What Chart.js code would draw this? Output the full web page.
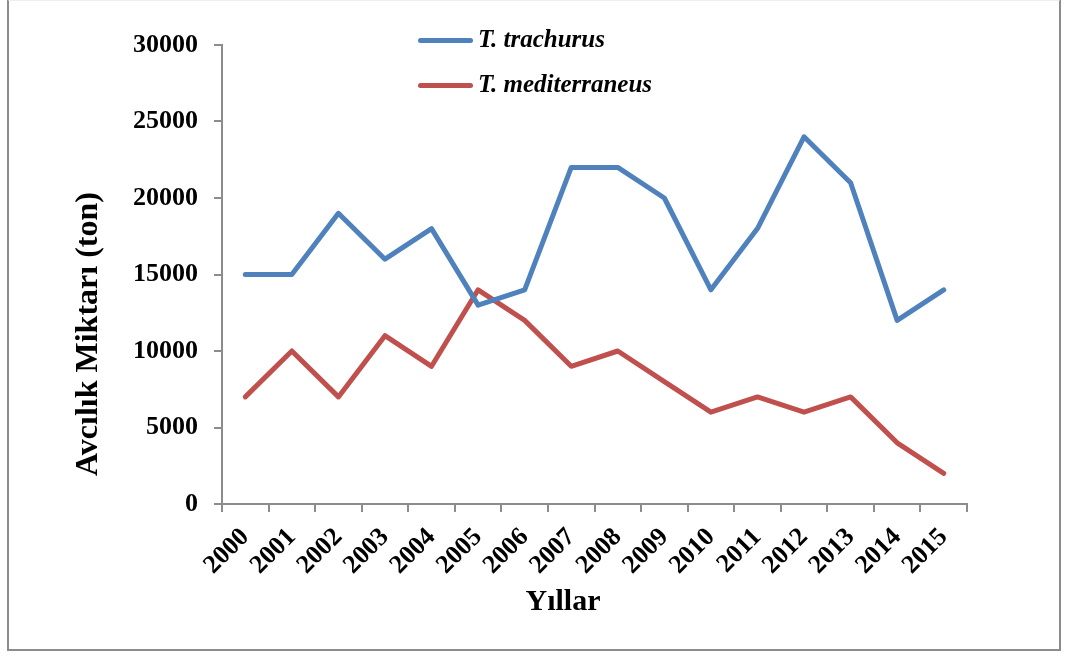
<!DOCTYPE html>
<html>
<head>
<meta charset="utf-8">
<script src="https://cdn.jsdelivr.net/npm/chart.js@4"></script>
<style>
  html, body { margin: 0; padding: 0; background: #fff; }
  #wrap { position: relative; width: 1066px; height: 657px; overflow: hidden; }
  #frame { position: absolute; left: 7px; top: -1px; width: 1054px; height: 652px; border: 2px solid #8c8c8c; border-top-color: #eeeeee; box-sizing: border-box; }
  canvas { position: absolute; left: 0; top: 0; }
  .serif { font-family: "Liberation Serif", "Times New Roman", serif; font-weight: bold; color: #000; position: absolute; white-space: nowrap; }
  #ytitle { font-size: 32px; left: 86px; top: 334px; transform: translate(-50%, -50%) rotate(-90deg); }
  #xtitle { font-size: 30px; left: 563px; top: 600px; transform: translate(-50%, -50%); }
  .leg { position: absolute; left: 418px; height: 0; }
  .leg .ln { position: absolute; left: 0; top: -2px; width: 55px; height: 5px; border-radius: 3px; }
  .leg .tx { font-style: italic; font-size: 25px; left: 60px; top: 0; transform: translateY(-52%); }
</style>
</head>
<body>
<div id="wrap">
  <canvas id="c" width="1066" height="657"></canvas>
  <div id="frame"></div>
  <div id="ytitle" class="serif">Avcılık Miktarı (ton)</div>
  <div id="xtitle" class="serif">Yıllar</div>
  <div class="leg" style="top:40px"><div class="ln" id="ln0"></div><div class="tx serif" id="tx0"></div></div>
  <div class="leg" style="top:85px"><div class="ln" id="ln1"></div><div class="tx serif" id="tx1"></div></div>
</div>
<script>
const years = ["2000","2001","2002","2003","2004","2005","2006","2007","2008","2009","2010","2011","2012","2013","2014","2015"];
const trachurus = [15000,15000,19000,16000,18000,13000,14000,22000,22000,20000,14000,18000,24000,21000,12000,14000];
const mediterraneus = [7000,10000,7000,11000,9000,14000,12000,9000,10000,8000,6000,7000,6000,7000,4000,2000];
const seriesNames = ["T. trachurus", "T. mediterraneus"];
const seriesColors = ["#4F81BD", "#C0504D"];
const yTitle = "Avcılık Miktarı (ton)";
const xTitle = "Yıllar";

const fontFamily = '"Liberation Serif", "Times New Roman", serif';

document.getElementById('ytitle').textContent = yTitle;
document.getElementById('xtitle').textContent = xTitle;
[0,1].forEach(i => {
  document.getElementById('ln' + i).style.background = seriesColors[i];
  document.getElementById('tx' + i).textContent = seriesNames[i];
});

new Chart(document.getElementById('c'), {
  type: 'line',
  data: {
    labels: years,
    datasets: [
      { label: seriesNames[0], data: trachurus, borderColor: seriesColors[0], backgroundColor: seriesColors[0] },
      { label: seriesNames[1], data: mediterraneus, borderColor: seriesColors[1], backgroundColor: seriesColors[1] }
    ]
  },
  options: {
    responsive: false,
    animation: false,
    events: [],
    elements: {
      line: { borderWidth: 5, tension: 0, borderCapStyle: 'round', borderJoinStyle: 'round' },
      point: { radius: 0, hoverRadius: 0 }
    },
    layout: { padding: { left: 0, right: 99, top: 45, bottom: 0 } },
    plugins: { legend: { display: false }, tooltip: { enabled: false } },
    scales: {
      x: {
        type: 'category',
        offset: true,
        grid: { offset: true, drawOnChartArea: false, drawTicks: true, tickLength: 8, color: '#8c8c8c', lineWidth: 2 },
        border: { color: '#8c8c8c', width: 2 },
        ticks: { color: '#000', font: { family: fontFamily, size: 26, weight: 'bold' }, minRotation: 45, maxRotation: 45, padding: 10, autoSkip: false },
        afterFit: s => { s.height = 153; }
      },
      y: {
        min: 0, max: 30000,
        grid: { drawOnChartArea: false, drawTicks: true, tickLength: 8, color: '#8c8c8c', lineWidth: 2 },
        border: { color: '#8c8c8c', width: 2 },
        ticks: { stepSize: 5000, color: '#000', font: { family: fontFamily, size: 26, weight: 'bold' }, padding: 16, callback: v => String(v) },
        afterFit: s => { s.width = 222; }
      }
    }
  }
});
</script>
</body>
</html>
